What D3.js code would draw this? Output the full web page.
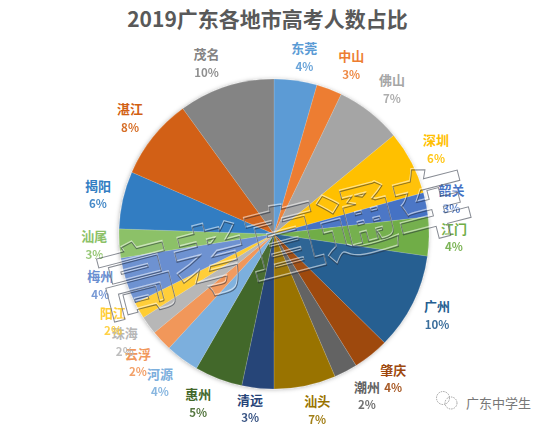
<!DOCTYPE html>
<html><head><meta charset="utf-8">
<script src="https://cdnjs.cloudflare.com/ajax/libs/d3/7.8.5/d3.min.js"></script>
<style>html,body{margin:0;padding:0;background:#fff}svg{display:block}text{font-family:"Noto Sans CJK SC","Noto Sans",sans-serif}</style>
</head><body><div id="chart"></div>
<script>
const titleText = "2019广东各地市高考人数占比";
const cities = ["东莞","中山","佛山","深圳","韶关","江门","广州","肇庆","潮州","汕头","清远","惠州","河源","云浮","珠海","阳江","梅州","汕尾","揭阳","湛江","茂名"];
const shares = [4.47,2.67,6.89,6.67,2.53,4.06,10.08,3.75,2.44,6.44,3.33,5.0,3.5,2.19,1.92,1.72,4.86,3.0,6.0,8.47,10.0];
const percentLabels = ["4%","3%","7%","6%","3%","4%","10%","4%","2%","7%","3%","5%","4%","2%","2%","2%","4%","3%","6%","8%","10%"];
const palette = ["#5b9bd5","#ed7d31","#a5a5a5","#ffc000","#4472c4","#70ad47","#255e91","#9e480e","#636363","#997300","#264478","#43682b","#7cafdd","#f1975a","#b7b7b7","#ffcd33","#698ed0","#8cc168","#327dc2","#d26012","#848484"];
// label placement (polar, degrees clockwise from 12 o'clock / px from pie centre)
const labelAngles = [9.7,24.5,39.1,62.3,78.7,91,116.4,140.4,150,166.2,187.8,204.2,217.6,226.7,234.2,241.6,253.7,266.5,282.8,308.9,338.5];
const labelRadii = [180,186,187,183,181,180,182,187,186,181,176,185,187,187,184,183,181,180,180.5,185,184];
const watermarkText = "高考直通车";
const brandText = "广东中学生";

const W = 548, H = 427, cx = 274, cy = 234, R = 155;
const svg = d3.select("#chart").append("svg").attr("width", W).attr("height", H);
const defs = svg.append("defs");
defs.append("filter").attr("id","pieShadow").attr("x","-10%").attr("y","-10%").attr("width","120%").attr("height","120%")
  .append("feDropShadow").attr("dx",-0.5).attr("dy",0.5).attr("stdDeviation",2).attr("flood-color","#000").attr("flood-opacity",0.3);

svg.append("text").attr("x",267.5).attr("y",18).attr("text-anchor","middle").attr("dominant-baseline","central")
  .attr("font-size",21).attr("font-weight",700).attr("fill","#595959").text(titleText);

const pie = d3.pie().sort(null).value(d => d)(shares);
const arc = d3.arc().innerRadius(0).outerRadius(R);
const g = svg.append("g").attr("transform",`translate(${cx},${cy})`);
g.append("g").attr("filter","url(#pieShadow)").selectAll("path").data(pie).join("path")
  .attr("d",arc).attr("fill",(d,i)=>palette[i]).attr("stroke","#fff").attr("stroke-opacity",0.35).attr("stroke-width",0.4);

const labels = g.append("g").selectAll("g").data(cities).join("g")
  .attr("transform",(d,i)=>{
    const p = d3.pointRadial(labelAngles[i]*Math.PI/180, labelRadii[i]);
    return `translate(${p[0]},${p[1]})`;
  }).attr("text-anchor","middle").attr("fill",(d,i)=>palette[i]);
labels.append("text").attr("y",-9).attr("dominant-baseline","central").attr("font-size",13).attr("font-weight",700).text(d=>d);
labels.append("text").attr("y",9).attr("dominant-baseline","central").attr("font-size",11.5).attr("font-weight",700).attr("opacity",0.9).text((d,i)=>percentLabels[i]);

// stroked watermark over everything
const wm = svg.append("g").attr("transform","translate(283,237) rotate(-14.5)");
wm.append("text").attr("y",-1.5).attr("text-anchor","middle").attr("dominant-baseline","central")
  .attr("font-size",76).attr("font-weight",900).attr("fill","none").attr("stroke","#fff").attr("stroke-opacity",0.55).attr("stroke-width",1.2).text(watermarkText);
wm.append("text").attr("text-anchor","middle").attr("dominant-baseline","central")
  .attr("font-size",76).attr("font-weight",900).attr("fill","#fff").attr("fill-opacity",0.04).attr("stroke","#252b3a").attr("stroke-opacity",0.55).attr("stroke-width",1).text(watermarkText);

// brand mark bottom right
const brand = svg.append("g").attr("fill","none").attr("stroke","#8a8a8a").attr("stroke-width",0.8).attr("stroke-dasharray","1.5 1");
brand.append("circle").attr("cx",443).attr("cy",398).attr("r",6.5);
brand.append("circle").attr("cx",451).attr("cy",403).attr("r",6);
svg.append("text").attr("x",498.5).attr("y",402).attr("text-anchor","middle").attr("dominant-baseline","central")
  .attr("font-size",13).attr("fill","#777").text(brandText);
</script></body></html>
